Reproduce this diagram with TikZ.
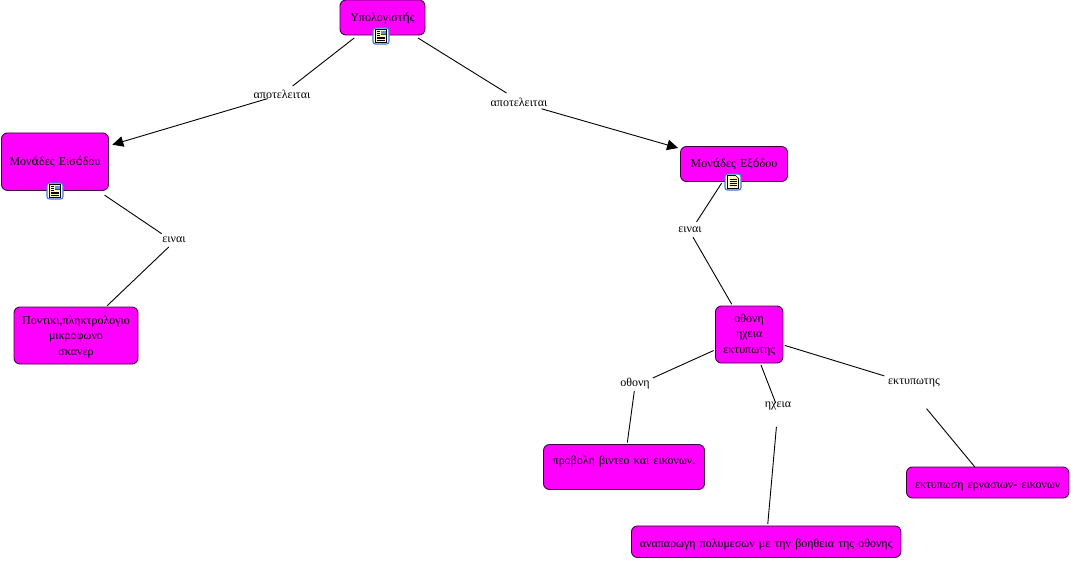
\documentclass[tikz,border=0pt]{standalone}
\usepackage{fontspec}
\usetikzlibrary{arrows.meta}
\setmainfont[WordSpace={1.4}]{Liberation Serif}
\newfontfamily\accfont{DejaVu Sans}
\definecolor{boxfill}{RGB}{255,0,255}
\definecolor{boxline}{RGB}{60,0,60}
\definecolor{iconblue}{RGB}{60,120,210}
\definecolor{paper}{RGB}{255,250,190}
\newcommand{\Acc}[1]{{\accfont\fontsize{11.5}{13}\selectfont #1}}
\newcommand{\Tx}[2]{\raisebox{#1pt}[0pt][0pt]{#2}}
\newcommand{\Tl}[3]{\raisebox{#1pt}[0pt][0pt]{\renewcommand\arraystretch{1.12}\setlength\tabcolsep{0pt}\begin{tabular}[b]{c}#2\\#3\end{tabular}}}
\newcommand{\DocIcon}[2]{%
  \begin{scope}[shift={(#1,#2)}]
    \draw[draw=iconblue,fill=white,line width=1.1pt,rounded corners=2.5pt] (-8,-8) rectangle (8,8);
    \draw[draw=black,fill=paper,line width=.6pt] (-5.5,-6.5) rectangle (5.5,6.5);
    \fill[iconblue!80] (0,-5.5) rectangle (4.5,-.8);
    \fill[green!45!black] (0,-2.4) rectangle (4.5,-.8);
    \foreach \yy in {-4.5,-2.7,-.9} \draw[line width=.45pt] (-4,\yy) -- (-1,\yy);
    \foreach \yy in {1,2.7,4.4} \draw[line width=.45pt] (-4,\yy) -- (4,\yy);
  \end{scope}}
\newcommand{\TextIcon}[2]{%
  \begin{scope}[shift={(#1,#2)}]
    \draw[draw=iconblue,fill=white,line width=1.1pt,rounded corners=2.5pt] (-8,-8) rectangle (8,8);
    \draw[draw=black,fill=paper,line width=.6pt] (-5.5,-6.5) -- (2.5,-6.5) -- (5.5,-3.5) -- (5.5,6.5) -- (-5.5,6.5) -- cycle;
    \foreach \yy in {-3.2,-1,1.2,3.4} \draw[line width=.5pt] (-3.5,\yy) -- (3.5,\yy);
  \end{scope}}
\tikzset{
  cbox/.style={draw=boxline,fill=boxfill,line width=.9pt,rounded corners=6pt,inner sep=0pt,outer sep=0pt,font=\fontsize{12}{14}\selectfont,anchor=center},
  lbl/.style={inner sep=0pt,outer sep=0pt,font=\fontsize{12}{14}\selectfont,minimum width=0pt},
  conn/.style={line width=.9pt,black},
  arr/.style={conn,-{Triangle[length=11pt,width=10.5pt]}}
}
\begin{document}
\begin{tikzpicture}[x=1pt,y=-1pt]
\useasboundingbox (0,0) rectangle (1071,560);
\node[cbox,minimum width=85pt,minimum height=35pt] (comp) at (382.5,17.5) {\Tx{-4}{Υπολογιστ\Acc{ή}ς}};
\node[cbox,minimum width=107pt,minimum height=57.5pt] (inp) at (55,161.7) {\Tx{-4}{Μον\Acc{ά}δες Εισ\Acc{ό}δου}};
\node[cbox,minimum width=107pt,minimum height=35pt] (out) at (734,164) {\Tx{-3}{Μον\Acc{ά}δες Εξ\Acc{ό}δου}};
\node[cbox,minimum width=124pt,minimum height=57pt] (dev) at (76,335.5) {\Tl{-20}{Ποντικι,πληκτρολογιο\\μικροφωνο}{σκανερ}};
\node[cbox,minimum width=67.5pt,minimum height=57pt] (oth) at (749.2,334.5) {\Tl{-19}{οθονη\\ηχεια}{εκτυπωτης}};
\node[cbox,minimum width=161pt,minimum height=45pt] (prov) at (624,467) {\Tx{2.5}{προβολη βιντεο και εικονων.}};
\node[cbox,minimum width=269.5pt,minimum height=31.5pt] (anap) at (766.2,541.7) {\Tx{-5.5}{αναπαρωγη πολυμεσων με την βοηθεια της οθονης}};
\node[cbox,minimum width=162.5pt,minimum height=31pt] (ekt) at (987.7,482.5) {\Tx{-5.5}{εκτυπωση εργασιων- εικονων}};
\node[lbl] (l1) at (282,94.3) {αποτελειται};
\node[lbl] (l2) at (519,102.3) {αποτελειται};
\node[lbl] (l3) at (174,240) {ειναι};
\node[lbl] (l4) at (690,230) {ειναι};
\node[lbl] (l5) at (635,384) {οθονη};
\node[lbl] (l6) at (778,406) {ηχεια};
\node[lbl] (l7) at (914,383) {εκτυπωτης};
\draw[conn,shorten <=33.3pt,shorten >=13.5pt] ([xshift=-2pt]comp.center) -- (l1.center);
\draw[conn,shorten <=38.8pt,shorten >=17.6pt] ([xshift=2.5pt]comp.center) -- ([xshift=2.5pt]l2.center);
\draw[arr,shorten <=0pt,shorten >=4pt] (l1) -- (inp);
\draw[arr,shorten <=8pt,shorten >=2.5pt] (l2) -- (out);
\draw[conn,shorten <=59.8pt,shorten >=14.8pt] (inp.center) -- ([yshift=-2pt]l3.center);
\draw[conn,shorten <=7pt,shorten >=2pt] ([yshift=-2pt]l3.center) -- (dev);
\draw[conn,shorten <=2pt,shorten >=12.1pt] (out) -- ([yshift=-2pt]l4.center);
\draw[conn,shorten <=6pt,shorten >=2pt] ([yshift=-2pt]l4.center) -- (oth);
\draw[conn,shorten <=2pt,shorten >=19.5pt] (oth) -- ([yshift=-2pt]l5.center);
\draw[conn,shorten <=5pt,shorten >=2pt] ([yshift=-2pt]l5.center) -- (prov);
\draw[conn,shorten <=2pt,shorten >=6.5pt] (oth) -- ([yshift=-3pt]l6.center);
\draw[conn,shorten <=18pt,shorten >=2pt] ([yshift=-3pt]l6.center) -- (anap);
\draw[conn,shorten <=2pt,shorten >=31.2pt] (oth) -- ([yshift=-2pt]l7.center);
\draw[conn,shorten <=30.7pt,shorten >=0pt] ([xshift=-7pt,yshift=-2pt]l7.center) -- (ekt);
\DocIcon{381}{36}
\DocIcon{55}{191}
\TextIcon{733}{182}
\end{tikzpicture}
\end{document}
